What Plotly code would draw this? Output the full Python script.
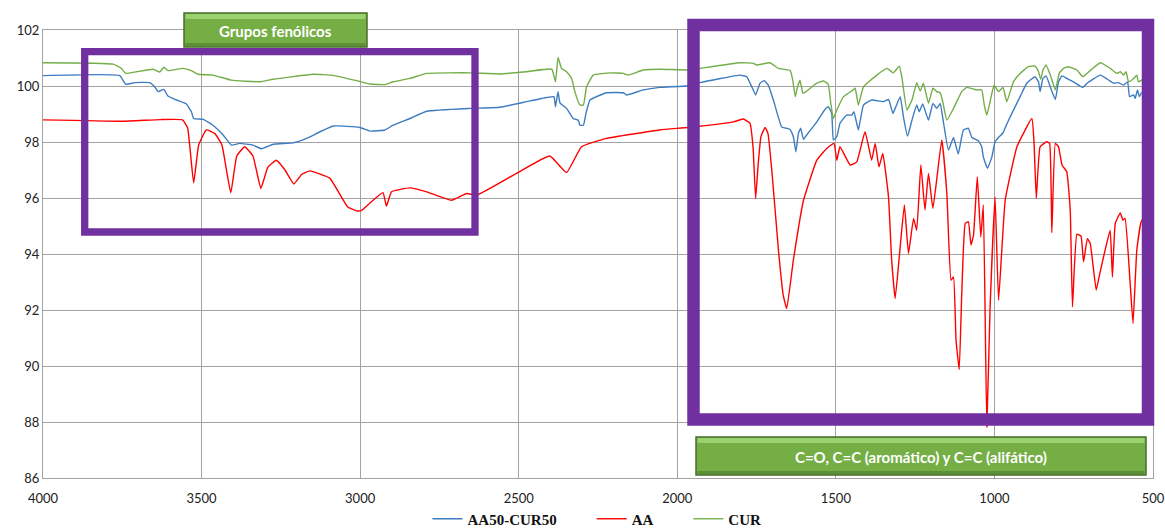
import plotly.graph_objects as go

# FTIR spectra: wavenumber (cm-1) vs transmittance (%)
aa_wn = [4000, 3750, 3630, 3560, 3544, 3525, 3509, 3485, 3458, 3436, 3408, 3389, 3364, 3338,
         3313, 3291, 3264, 3237, 3209, 3184, 3159, 3096, 3039, 3011, 2995, 2969, 2928, 2917,
         2901, 2843, 2790, 2712, 2664, 2633, 2507, 2402, 2349, 2302, 2223, 2055, 1966, 1823,
         1792, 1771, 1761, 1753, 1745, 1736, 1723, 1714, 1702, 1681, 1666, 1655, 1634, 1602,
         1560, 1529, 1506, 1497, 1487, 1455, 1434, 1408, 1387, 1376, 1364, 1352, 1334, 1324,
         1313, 1300, 1284, 1271, 1255, 1245, 1232, 1219, 1208, 1194, 1166, 1150, 1137, 1129,
         1121, 1111, 1103, 1092, 1082, 1074, 1066, 1054, 1043, 1035, 1024, 1014, 998, 987,
         966, 929, 882, 875, 868, 856, 835, 826, 819, 808, 798, 787, 772, 761, 754, 740, 727,
         719, 707, 698, 679, 669, 651, 635, 628, 619, 603, 595, 588, 572, 563, 551, 535, 500]
aa_t = [98.79, 98.74, 98.80, 98.79, 98.50, 96.54, 97.90, 98.43, 98.30, 97.90, 96.19, 97.50,
        97.83, 97.50, 96.34, 97.10, 97.35, 97.00, 96.50, 96.85, 96.97, 96.71, 95.68, 95.54,
        95.56, 95.82, 96.19, 95.71, 96.22, 96.36, 96.22, 95.92, 96.16, 96.10, 96.88, 97.50,
        96.91, 97.83, 98.13, 98.43, 98.52, 98.72, 98.82, 98.67, 97.80, 95.98, 97.20, 98.20,
        98.52, 98.30, 97.00, 94.14, 92.53, 92.05, 93.78, 95.92, 97.35, 97.77, 97.95, 97.35,
        97.83, 97.18, 97.29, 98.37, 97.35, 97.95, 97.11, 97.59, 96.04, 93.78, 92.41, 93.90,
        95.75, 94.02, 95.27, 94.85, 97.18, 95.57, 96.88, 95.63, 98.07, 96.16, 93.07, 93.18,
        90.92, 89.87, 92.59, 95.09, 95.15, 94.32, 94.67, 96.76, 94.61, 95.75, 87.82, 91.99,
        96.04, 92.35, 95.92, 97.83, 98.84, 97.95, 95.98, 97.83, 98.01, 97.95, 94.76, 97.95,
        97.83, 97.18, 96.94, 95.57, 92.11, 94.71, 94.64, 93.72, 94.55, 94.38, 92.71, 93.24,
        94.14, 94.85, 93.18, 95.09, 95.47, 95.21, 95.27, 92.95, 91.52, 94.14, 95.21, 95.30]

mix_wn = [4000, 3758, 3739, 3711, 3663, 3648, 3637, 3619, 3606, 3579, 3548, 3532, 3525, 3495,
          3464, 3432, 3406, 3380, 3338, 3311, 3274, 3211, 3169, 3085, 3001, 2969, 2922, 2896,
          2843, 2790, 2654, 2559, 2475, 2412, 2389, 2384, 2376, 2370, 2349, 2328, 2312, 2307,
          2296, 2288, 2275, 2223, 2170, 2160, 2107, 2055, 1965, 1928, 1802, 1781, 1765, 1753,
          1739, 1726, 1713, 1697, 1671, 1655, 1644, 1634, 1626, 1618, 1611, 1602, 1592, 1560,
          1534, 1524, 1513, 1508, 1497, 1487, 1466, 1450, 1443, 1429, 1413, 1387, 1350, 1334,
          1320, 1313, 1297, 1287, 1274, 1260, 1245, 1237, 1226, 1208, 1194, 1182, 1171, 1161,
          1145, 1129, 1114, 1098, 1082, 1071, 1050, 1040, 1035, 1022, 1008, 998, 987, 973, 959,
          940, 919, 898, 872, 861, 856, 847, 837, 824, 808, 798, 787, 772, 751, 721, 708, 666,
          624, 609, 593, 580, 574, 561, 556, 549, 543, 536, 500]
mix_t = [100.37, 100.37, 100.06, 100.12, 100.12, 99.97, 99.80, 99.88, 99.64, 99.50, 99.36,
         99.08, 98.84, 98.81, 98.60, 98.25, 97.89, 97.95, 97.89, 97.76, 97.92, 97.97, 98.13,
         98.57, 98.52, 98.39, 98.43, 98.60, 98.84, 99.10, 99.20, 99.24, 99.44, 99.59, 99.62,
         99.26, 99.80, 99.40, 99.20, 98.84, 98.78, 98.60, 98.60, 99.02, 99.50, 99.76, 99.76,
         99.68, 99.86, 99.95, 100.01, 100.12, 100.39, 100.33, 99.97, 99.68, 100.10, 100.19,
         100.03, 99.50, 98.54, 98.49, 98.45, 98.19, 97.65, 98.31, 98.49, 98.09, 98.25, 98.72,
         99.17, 99.26, 99.02, 98.07, 98.19, 98.67, 98.96, 98.96, 99.08, 98.43, 99.32, 99.50,
         99.44, 99.52, 99.02, 99.20, 99.62, 98.90, 98.21, 98.78, 99.32, 99.08, 99.36, 98.78,
         99.38, 99.20, 99.38, 98.72, 97.71, 98.16, 97.57, 98.43, 98.49, 98.16, 98.04, 97.83,
         97.47, 97.06, 97.47, 98.01, 98.16, 98.33, 98.69, 99.14, 99.62, 100.10, 100.33, 100.15,
         99.80, 100.27, 100.36, 99.97, 99.52, 100.15, 100.36, 100.27, 100.15, 99.95, 100.10,
         100.39, 100.10, 100.12, 100.03, 100.15, 99.62, 99.68, 99.56, 99.86, 99.62, 99.76, 99.80]

cur_wn = [4000, 3779, 3753, 3739, 3705, 3653, 3632, 3619, 3606, 3558, 3532, 3511, 3464, 3406,
          3316, 3274, 3148, 3085, 3011, 2969, 2922, 2896, 2843, 2790, 2654, 2559, 2475, 2396,
          2384, 2376, 2365, 2349, 2333, 2323, 2307, 2296, 2286, 2265, 2212, 2170, 2155, 2107,
          2055, 1965, 1928, 1802, 1760, 1750, 1708, 1681, 1644, 1636, 1628, 1621, 1613, 1604,
          1594, 1560, 1539, 1524, 1516, 1508, 1497, 1476, 1445, 1439, 1429, 1413, 1371, 1339,
          1319, 1300, 1292, 1276, 1260, 1245, 1234, 1224, 1208, 1194, 1182, 1171, 1163, 1150,
          1129, 1103, 1087, 1055, 1040, 1032, 1024, 1008, 1001, 987, 973, 961, 940, 919, 893,
          872, 861, 854, 847, 837, 822, 808, 795, 782, 767, 740, 721, 714, 666, 635, 614, 603,
          593, 585, 577, 561, 551, 546, 536, 500]
cur_t = [100.83, 100.78, 100.63, 100.45, 100.51, 100.60, 100.50, 100.67, 100.55, 100.63,
         100.55, 100.42, 100.39, 100.21, 100.15, 100.24, 100.42, 100.38, 100.19, 100.07,
         100.05, 100.15, 100.27, 100.45, 100.47, 100.43, 100.51, 100.60, 100.15, 101.02,
         100.63, 100.51, 100.27, 99.80, 99.32, 99.32, 99.97, 100.39, 100.47, 100.45, 100.39,
         100.57, 100.60, 100.57, 100.63, 100.83, 100.81, 100.75, 100.83, 100.63, 100.55,
         100.21, 99.62, 99.97, 100.21, 99.74, 99.80, 100.10, 100.18, 100.06, 99.38, 98.84,
         99.14, 99.62, 99.86, 99.92, 99.32, 99.97, 100.39, 100.63, 100.47, 100.71, 100.33,
         99.14, 99.50, 100.12, 99.82, 100.10, 99.38, 99.92, 99.80, 99.76, 99.44, 98.78, 99.20,
         99.80, 99.95, 99.86, 99.86, 99.32, 98.96, 99.74, 100.03, 99.80, 99.95, 99.44, 100.15,
         100.45, 100.69, 100.71, 100.51, 100.24, 100.57, 100.75, 100.33, 99.86, 100.47,
         100.63, 100.69, 100.57, 100.33, 100.39, 100.83, 100.63, 100.45, 100.51, 100.39,
         100.51, 100.15, 100.27, 100.39, 100.15, 100.21, 100.29]

x_ticks = [4000, 3500, 3000, 2500, 2000, 1500, 1000, 500]
y_ticks = [86, 88, 90, 92, 94, 96, 98, 100, 102]

PAD = "\u00a0" * 8  # spacing between legend entries
series = [
    ("AA50-CUR50", mix_wn, mix_t, "#3d7cc0"),
    ("AA", aa_wn, aa_t, "#ff0000"),
    ("CUR", cur_wn, cur_t, "#73ad48"),
]

fig = go.Figure()
for i, (name, wn, t, color) in enumerate(series):
    label = name + (PAD if i < len(series) - 1 else "")
    fig.add_trace(go.Scatter(x=wn, y=t, mode="lines", name=label,
                             line=dict(color=color, width=1.4, shape="spline",
                                       smoothing=0.35)))

W, H = 1165, 531
L, R, T, B = 43, 12, 30, 53
pw, ph = W - L - R, H - T - B


def px_x(p):
    return (p - L) / pw


def px_y(p):
    return (H - B - p) / ph


purple = "#7030a0"
# highlighted regions (paper coordinates)
fig.add_shape(type="rect", xref="paper", yref="paper",
              x0=px_x(84.7), x1=px_x(475), y0=px_y(232), y1=px_y(51.7),
              line=dict(color=purple, width=7.3), layer="above")
fig.add_shape(type="rect", xref="paper", yref="paper",
              x0=px_x(693.5), x1=px_x(1148), y0=px_y(419.5), y1=px_y(25),
              line=dict(color=purple, width=12.5), layer="above")


def label_box(x0, x1, y0, y1, text, size):
    fig.add_shape(type="rect", xref="paper", yref="paper",
                  x0=px_x(x0), x1=px_x(x1), y0=px_y(y1), y1=px_y(y0),
                  fillcolor="#74ae44", line=dict(color="#466f28", width=1.5),
                  layer="above")
    fig.add_shape(type="rect", xref="paper", yref="paper",
                  x0=px_x(x0 + 1.5), x1=px_x(x1 - 1.5), y0=px_y(y0 + 6), y1=px_y(y0 + 1),
                  fillcolor="#9bd270", line=dict(width=0), layer="above")
    fig.add_shape(type="rect", xref="paper", yref="paper",
                  x0=px_x(x0 + 1.5), x1=px_x(x1 - 1.5), y0=px_y(y1 - 1), y1=px_y(y1 - 4),
                  fillcolor="#5c8f36", line=dict(width=0), layer="above")
    fig.add_annotation(xref="paper", yref="paper", x=px_x((x0 + x1) / 2),
                       y=px_y((y0 + y1) / 2 + 1), text=f"<b>{text}</b>", showarrow=False,
                       font=dict(family="Lato", size=size, color="white"),
                       xanchor="center", yanchor="middle")


label_box(184, 367, 13, 47, "Grupos fenólicos", 15)
label_box(696, 1146, 437, 475, "C=O, C=C (aromático) y C=C (alifático)", 15)

grid = "#a3a3a3"
fig.update_xaxes(range=[4000, 500], tickvals=x_ticks, showgrid=True, gridcolor=grid,
                 gridwidth=1.3, showline=True, linecolor=grid, linewidth=1.3, mirror=True,
                 zeroline=False, ticks="", ticklabelstandoff=8,
                 tickfont=dict(family="Lato", size=13, color="#222"))
fig.update_yaxes(range=[86, 102], tickvals=y_ticks, showgrid=True, gridcolor=grid,
                 gridwidth=1.3, showline=True, linecolor=grid, linewidth=1.3, mirror=True,
                 zeroline=False, ticks="",
                 tickfont=dict(family="Lato", size=13, color="#222"))

fig.update_layout(
    width=W, height=H,
    margin=dict(l=L, r=R, t=T, b=B, autoexpand=False),
    paper_bgcolor="white", plot_bgcolor="white",
    legend=dict(orientation="h", x=px_x(597), xanchor="center", y=px_y(519),
                yanchor="middle", font=dict(family="Liberation Serif", size=15,
                                            color="#111", weight="bold"),
                itemwidth=30, bgcolor="rgba(0,0,0,0)"),
    showlegend=True,
)

fig.write_html("out.html")
